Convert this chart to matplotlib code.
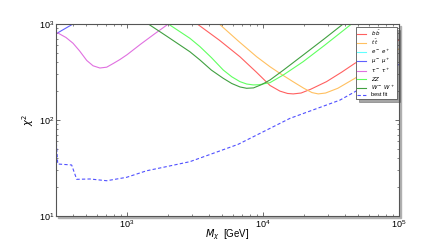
import numpy as np
import matplotlib
matplotlib.use("Agg")
import matplotlib.pyplot as plt
from matplotlib.patches import Rectangle

plt.rcParams['font.family'] = ['Liberation Sans', 'DejaVu Sans']
plt.rcParams['mathtext.fontset'] = 'dejavusans'

# Data, mass in GeV, chi^2
m_tau = [300, 355, 400, 447, 505, 562, 631, 708, 794, 887, 1000, 1259, 1585, 2010, 2240]
chi_tau = [826, 724, 631, 525, 417, 367, 348, 355, 389, 427, 479, 617, 785, 1000, 1120]

m_mu = [300, 400, 450]
chi_mu = [790, 1000, 1100]

m_ee = []
chi_ee = []

m_ww = [1259, 1432, 1995, 2897, 3436, 4169, 5093, 5888, 6761, 7568, 8511, 9772,
        11246, 14125, 19724, 28184, 38815, 43652]
chi_ww = [1135, 1000, 733, 514, 422, 331, 272, 240, 221, 214, 216, 234,
          261, 331, 475, 700, 1000, 1122]

m_zz = [1778, 2010, 2897, 3436, 4169, 5093, 5888, 6761, 7586, 8472, 9333, 11246,
        14125, 19724, 28184, 44771, 50119]
chi_zz = [1135, 1000, 710, 581, 447, 332, 282, 251, 237, 232, 233, 245,
          295, 405, 596, 1000, 1135]

m_bb = [2951, 3281, 4786, 6761, 8913, 11246, 13305, 15136, 16672, 19055, 22387,
        29309, 38019, 47424, 70795, 100000]
chi_bb = [1122, 1000, 676, 456, 316, 229, 200, 189, 187, 191, 209,
          251, 316, 390, 525, 681]

m_tt = [4266, 4764, 6607, 8974, 11246, 13305, 16596, 19953, 22909, 25468, 28840,
        35481, 47424, 70795, 100000]
chi_tt = [1148, 1000, 661, 456, 359, 306, 251, 214, 193, 187, 191,
          214, 272, 398, 550]

m_best = [300, 309, 391, 426, 533, 708, 993, 1393, 1954, 2897, 4305, 6561,
          15776, 36728, 47424, 100000]
chi_best = [66, 34.8, 34.0, 24.1, 24.3, 23.3, 25.3, 29.6, 32.7, 36.8, 45.0, 55.8,
            104, 161, 197, 380]

fig = plt.figure(figsize=(4.43, 2.40), dpi=100)
ax = fig.add_axes([56 / 443, 24 / 240, 343 / 443, 192 / 240])

# grey shadow behind the axes frame
fig.patches.append(Rectangle((58 / 443, 22 / 240), 343 / 443, 192 / 240,
                             transform=fig.transFigure, color='#b0b0b0',
                             zorder=-10))
ax.set_facecolor('white')

lw = 0.8
ax.plot(m_bb, chi_bb, color='#ff6060', lw=lw, label=r'$b\,\bar{b}$')
ax.plot(m_tt, chi_tt, color='#ffc060', lw=lw, label=r'$t\,\bar{t}$')
ax.plot(m_ee, chi_ee, color='#60ffff', lw=lw, label=r'$e^-\ e^+$')
ax.plot(m_mu, chi_mu, color='#6060ff', lw=lw, label=r'$\mu^-\ \mu^+$')
ax.plot(m_tau, chi_tau, color='#e070e0', lw=lw, label=r'$\tau^-\ \tau^+$')
ax.plot(m_zz, chi_zz, color='#60ff60', lw=lw, label=r'$ZZ$')
ax.plot(m_ww, chi_ww, color='#40a040', lw=lw, label=r'$W^-\ W^+$')
ax.plot(m_best, chi_best, color='#5050ff', lw=lw, ls='--', dashes=(3, 2),
        label='best fit')

ax.set_xscale('log')
ax.set_yscale('log')
ax.set_xlim(300, 1e5)
ax.set_ylim(10, 1000)

for s in ax.spines.values():
    s.set_color('#555555')
    s.set_linewidth(0.8)

ax.tick_params(which='both', direction='in', top=True, right=True,
               labelsize=6.5, color='#555555', pad=1.5)
ax.tick_params(which='major', length=3, width=0.6)
ax.tick_params(which='minor', length=1.5, width=0.5)

ax.set_xlabel(r'$M_\chi$  [GeV]', fontsize=7)
ax.xaxis.set_label_coords(0.5, -0.058)
ax.set_ylabel(r'$\chi^2$', fontsize=7, labelpad=2)

leg = ax.legend(loc='upper right', bbox_to_anchor=(0.994, 0.985), fontsize=4.0,
                frameon=True, fancybox=False, shadow=True, handlelength=1.5,
                borderpad=0.3, labelspacing=0.03, handletextpad=1.0,
                borderaxespad=0)
leg.get_frame().set_edgecolor('#555555')
leg.get_frame().set_linewidth(0.6)

fig.savefig('out.png', dpi=100)
